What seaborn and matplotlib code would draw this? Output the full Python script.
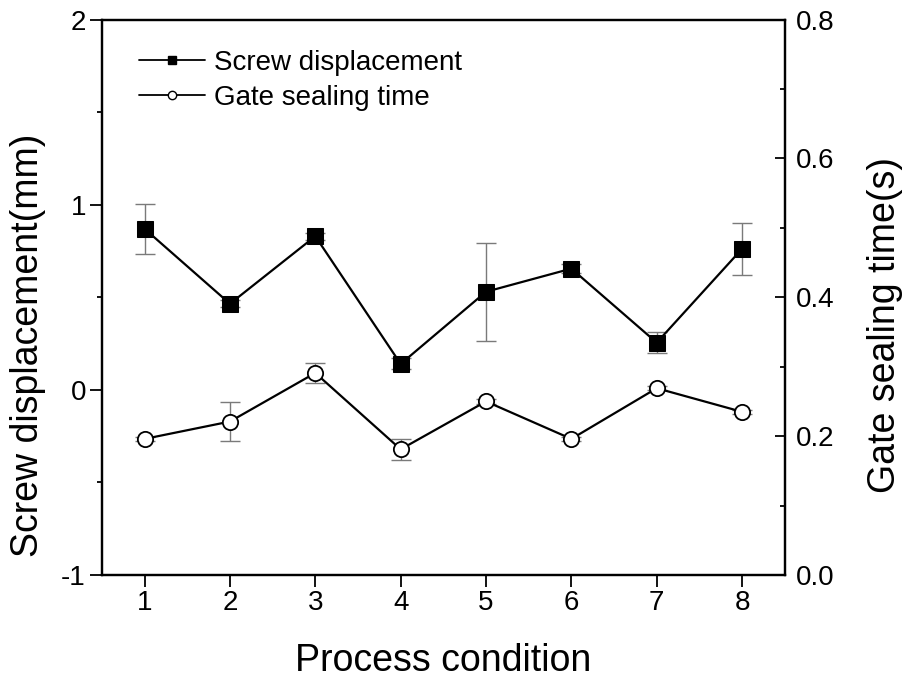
import matplotlib
matplotlib.use("Agg")
import matplotlib.pyplot as plt
import seaborn as sns
import numpy as np
import pandas as pd
from matplotlib.ticker import MultipleLocator
from matplotlib.lines import Line2D

conditions = [1, 2, 3, 4, 5, 6, 7, 8]
screw_disp = [0.87, 0.465, 0.83, 0.14, 0.53, 0.655, 0.255, 0.762]
screw_err = [0.135, 0.02, 0.02, 0.03, 0.265, 0.025, 0.058, 0.14]
gate_time = [0.196, 0.221, 0.291, 0.181, 0.25, 0.196, 0.269, 0.235]
gate_err = [0.003, 0.028, 0.014, 0.015, 0.003, 0.003, 0.003, 0.003]
x_ticks = [1, 2, 3, 4, 5, 6, 7, 8]
left_ticks = [-1, 0, 1, 2]
right_ticks = [0.0, 0.2, 0.4, 0.6, 0.8]
right_labels = ["0.0", "0.2", "0.4", "0.6", "0.8"]

sns.set_style("white")
plt.rcParams['font.family'] = ['Liberation Sans', 'DejaVu Sans']
plt.rcParams['axes.unicode_minus'] = False
plt.rcParams['text.color'] = 'black'
plt.rcParams['axes.labelcolor'] = 'black'
plt.rcParams['xtick.color'] = 'black'
plt.rcParams['ytick.color'] = 'black'

df1 = pd.DataFrame({"cond": conditions, "val": screw_disp})
df2 = pd.DataFrame({"cond": conditions, "val": gate_time})

fig, ax = plt.subplots(figsize=(9.02, 6.78), dpi=100)
fig.subplots_adjust(left=0.113, right=0.870, top=0.971, bottom=0.152)
ax2 = ax.twinx()

ecol = "#7a7a7a"
ax.errorbar(conditions, screw_disp, yerr=screw_err, fmt="none", ecolor=ecol,
            elinewidth=1.0, capsize=7, capthick=1.0, zorder=2)
sns.lineplot(data=df1, x="cond", y="val", ax=ax, color="black", linewidth=1.6,
             marker="s", markersize=11, markerfacecolor="black",
             markeredgecolor="black", zorder=3)

ax2.errorbar(conditions, gate_time, yerr=gate_err, fmt="none", ecolor=ecol,
             elinewidth=1.0, capsize=7, capthick=1.0, zorder=2)
sns.lineplot(data=df2, x="cond", y="val", ax=ax2, color="black", linewidth=1.6,
             marker="o", markersize=11, markerfacecolor="white",
             markeredgecolor="black", markeredgewidth=1.3, zorder=3)

ax.set_xlim(0.5, 8.5)
ax.set_ylim(-1, 2)
ax2.set_ylim(0.0, 0.8)
ax.set_xticks(x_ticks)
ax.set_yticks(left_ticks)
ax.yaxis.set_minor_locator(MultipleLocator(0.5))
ax2.set_yticks(right_ticks)
ax2.yaxis.set_minor_locator(MultipleLocator(0.1))
ax2.set_yticklabels(right_labels)

ax.tick_params(axis="x", which="major", direction="out", length=8.5, width=1.3,
               labelsize=20, bottom=True, top=False, pad=2)
ax.tick_params(axis="y", which="major", direction="out", length=8.5, width=1.3,
               labelsize=20, left=True, right=False, pad=3)
ax.tick_params(axis="y", which="minor", direction="out", length=3.6, width=1.3,
               left=True, right=False)
ax2.tick_params(axis="y", which="major", direction="in", length=7.5, width=1.3,
                labelsize=20, right=True, left=False, pad=8)
ax2.tick_params(axis="y", which="minor", direction="in", length=3.6, width=1.3,
                right=True, left=False)

for a in (ax, ax2):
    for s in a.spines.values():
        s.set_linewidth(1.6)
        s.set_color("black")

ax.set_xlabel("Process condition", fontsize=27, labelpad=20)
ax.set_ylabel("Screw displacement(mm)", fontsize=27)
ax2.set_ylabel("Gate sealing time(s)", fontsize=27)
ax.yaxis.set_label_coords(-0.082, 0.414)
ax2.yaxis.set_label_coords(1.12, 0.45)

handles = [
    Line2D([], [], color="black", linewidth=1.3, marker="s", markersize=6,
           markerfacecolor="black", markeredgecolor="black"),
    Line2D([], [], color="black", linewidth=1.3, marker="o", markersize=6,
           markerfacecolor="white", markeredgecolor="black"),
]
ax.legend(handles, ["Screw displacement", "Gate sealing time"], loc="upper left",
          bbox_to_anchor=(0.017, 0.99), frameon=False, fontsize=20,
          handlelength=2.4, handletextpad=0.3, labelspacing=0.32)

fig.savefig("out.png", dpi=100)
